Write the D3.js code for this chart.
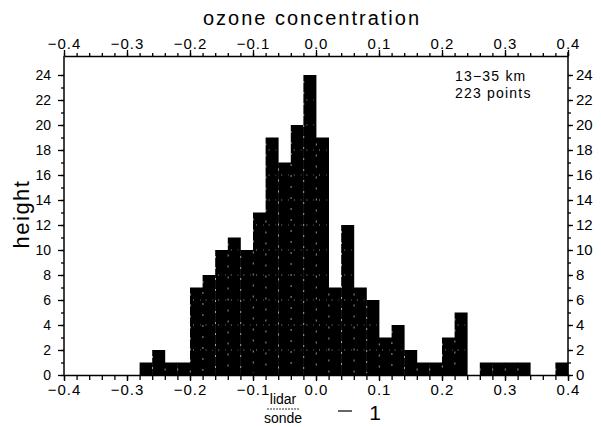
<!DOCTYPE html>
<html>
<head>
<meta charset="utf-8">
<script src="https://cdn.jsdelivr.net/npm/d3@7"></script>
<style>
body { margin: 0; background: #fff; }
svg { font-family: "Liberation Sans", Arial, sans-serif; }
.axis path, .axis line { stroke: #000; stroke-width: 1.3; }
.axis text { fill: #000; }
</style>
</head>
<body>
<div id="chart-area"></div>
<script>
// histogram bins (lower edge) and counts, bin width 0.02
var binLo = [-0.28, -0.26, -0.24, -0.22, -0.20, -0.18, -0.16, -0.14, -0.12, -0.10,
             -0.08, -0.06, -0.04, -0.02, 0.00, 0.02, 0.04, 0.06, 0.08, 0.10,
             0.12, 0.14, 0.16, 0.18, 0.20, 0.22, 0.24, 0.26, 0.28, 0.30,
             0.32, 0.34, 0.36, 0.38];
var counts = [1, 2, 1, 1, 7, 8, 10, 11, 10, 13,
              19, 17, 20, 24, 19, 7, 12, 7, 6, 3,
              4, 2, 1, 1, 3, 5, 0, 1, 1, 1,
              1, 0, 0, 1];
var binWidth = 0.02;

var xMajor = [-0.4, -0.3, -0.2, -0.1, 0.0, 0.1, 0.2, 0.3, 0.4];
var yMajor = [0, 2, 4, 6, 8, 10, 12, 14, 16, 18, 20, 22, 24];

var width = 601, height = 427;
var plotLeft = 64, plotRight = 568, plotBottom = 375, plotTop = 56;

var svg = d3.select("#chart-area")
    .append("svg")
    .attr("width", width)
    .attr("height", height);

var x = d3.scaleLinear().domain([-0.4, 0.4]).range([plotLeft, plotRight]);
var y = d3.scaleLinear().domain([0, 24]).range([plotBottom, 75]);

var xMinor = d3.range(-0.4, 0.401, 0.02).map(d => +d.toFixed(2));
var yMinor = d3.range(0, 25, 1);
var fmt = d3.format(".1f");

var data = binLo.map((d, i) => ({ lo: d, n: counts[i] })).filter(d => d.n > 0);

// bars
var bars = svg.append("g");
bars.selectAll("rect")
    .data(data)
    .enter().append("rect")
    .attr("x", d => x(d.lo))
    .attr("y", d => y(d.n))
    .attr("width", d => x(d.lo + binWidth) - x(d.lo) + 0.4)
    .attr("height", d => plotBottom - y(d.n))
    .attr("fill", "#000");

// faint white grid showing through the bars
bars.selectAll(".sep")
    .data(data.slice(1))
    .enter().append("line")
    .attr("x1", d => x(d.lo) + 0.3)
    .attr("x2", d => x(d.lo) + 0.3)
    .attr("y1", d => y(d.n) + 6)
    .attr("y2", plotBottom - 2)
    .attr("stroke", "#fff")
    .attr("stroke-width", 0.6)
    .attr("stroke-dasharray", "2,9");

data.forEach(d => {
    d3.range(2, d.n, 2).forEach(k => {
        bars.append("line")
            .attr("x1", x(d.lo) + 3)
            .attr("x2", x(d.lo + binWidth) - 2)
            .attr("y1", y(k))
            .attr("y2", y(k))
            .attr("stroke", "#fff")
            .attr("stroke-width", 0.6)
            .attr("stroke-dasharray", "1,6");
    });
});

// left axis
svg.append("g").attr("class", "axis")
    .attr("transform", "translate(" + plotLeft + ",0)")
    .call(d3.axisLeft(y).tickValues(yMinor).tickSize(3).tickFormat(""))
    .call(g => g.select(".domain").remove());
svg.append("g").attr("class", "axis")
    .attr("transform", "translate(" + plotLeft + ",0)")
    .call(d3.axisLeft(y).tickValues(yMajor).tickSize(6).tickPadding(7).tickSizeOuter(0))
    .call(g => g.select(".domain").remove())
    .selectAll("text").attr("font-size", 14);

// right axis
svg.append("g").attr("class", "axis")
    .attr("transform", "translate(" + plotRight + ",0)")
    .call(d3.axisRight(y).tickValues(yMinor).tickSize(3).tickFormat(""))
    .call(g => g.select(".domain").remove());
svg.append("g").attr("class", "axis")
    .attr("transform", "translate(" + plotRight + ",0)")
    .call(d3.axisRight(y).tickValues(yMajor).tickSize(5).tickPadding(3))
    .call(g => g.select(".domain").remove())
    .selectAll("text").attr("font-size", 15);

// frame verticals
svg.append("line").attr("x1", plotLeft).attr("x2", plotLeft)
    .attr("y1", plotTop).attr("y2", plotBottom)
    .attr("stroke", "#000").attr("stroke-width", 1.5);
svg.append("line").attr("x1", plotRight).attr("x2", plotRight)
    .attr("y1", plotTop - 4).attr("y2", plotBottom)
    .attr("stroke", "#000").attr("stroke-width", 1.5);

// bottom axis
svg.append("g").attr("class", "axis")
    .attr("transform", "translate(0," + plotBottom + ")")
    .call(d3.axisBottom(x).tickValues(xMinor).tickSize(5).tickFormat("").tickSizeOuter(0));
svg.append("g").attr("class", "axis")
    .attr("transform", "translate(0," + plotBottom + ")")
    .call(d3.axisBottom(x).tickValues(xMajor).tickSize(6).tickPadding(3).tickFormat(fmt))
    .call(g => g.select(".domain").remove())
    .selectAll("text").attr("font-size", 15).attr("letter-spacing", 1);

// top axis
svg.append("g").attr("class", "axis")
    .attr("transform", "translate(0," + plotTop + ")")
    .call(d3.axisTop(x).tickValues(xMinor).tickSize(3).tickFormat("").tickSizeOuter(0));
svg.append("g").attr("class", "axis")
    .attr("transform", "translate(0," + plotTop + ")")
    .call(d3.axisTop(x).tickValues(xMajor).tickSize(6).tickPadding(1).tickFormat(fmt))
    .call(g => g.select(".domain").remove())
    .selectAll("text").attr("font-size", 15).attr("letter-spacing", 1);

// titles
svg.append("text")
    .attr("x", 312).attr("y", 25)
    .attr("text-anchor", "middle")
    .attr("font-size", 20)
    .attr("letter-spacing", 2)
    .text("ozone concentration");

svg.append("text")
    .attr("transform", "translate(29,214) rotate(-90)")
    .attr("text-anchor", "middle")
    .attr("font-size", 22)
    .attr("letter-spacing", 1.5)
    .text("height");

svg.append("text")
    .attr("x", 455).attr("y", 81)
    .attr("font-size", 14)
    .attr("letter-spacing", 1.2)
    .text("13\u221235 km");
svg.append("text")
    .attr("x", 455).attr("y", 98)
    .attr("font-size", 14)
    .attr("letter-spacing", 1.2)
    .text("223 points");

// x axis label: lidar/sonde - 1
svg.append("text")
    .attr("x", 283).attr("y", 404)
    .attr("text-anchor", "middle")
    .attr("font-size", 14)
    .text("lidar");
svg.append("line")
    .attr("x1", 267).attr("x2", 300).attr("y1", 409).attr("y2", 409)
    .attr("stroke", "#000").attr("stroke-width", 0.8)
    .attr("stroke-dasharray", "2,1");
svg.append("text")
    .attr("x", 283).attr("y", 423)
    .attr("text-anchor", "middle")
    .attr("font-size", 14)
    .text("sonde");
svg.append("line")
    .attr("x1", 338).attr("x2", 352).attr("y1", 411).attr("y2", 411)
    .attr("stroke", "#000").attr("stroke-width", 1.2);
svg.append("text")
    .attr("x", 375).attr("y", 420)
    .attr("text-anchor", "middle")
    .attr("font-size", 21)
    .attr("font-weight", 300)
    .text("1");
</script>
</body>
</html>
